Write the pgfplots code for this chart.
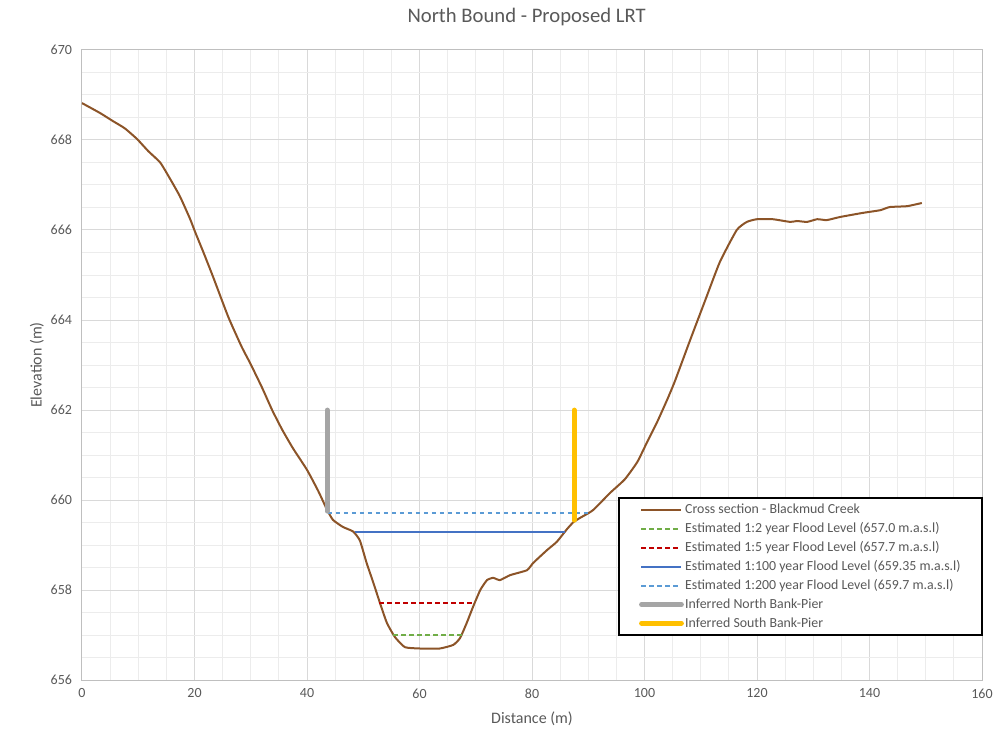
\documentclass[border=0pt]{standalone}
\usepackage{fontspec}
\setmainfont{Carlito}
\usepackage{pgfplots}
\pgfplotsset{compat=1.18}
\definecolor{txt}{RGB}{89,89,89}
\definecolor{majg}{RGB}{217,217,217}
\definecolor{ming}{RGB}{236,236,236}
\definecolor{axg}{RGB}{191,191,191}
\definecolor{creekbrown}{RGB}{140,84,40}
\definecolor{twogreen}{RGB}{112,173,71}
\definecolor{fivered}{RGB}{192,0,0}
\definecolor{hundredblue}{RGB}{68,114,196}
\definecolor{twohundredblue}{RGB}{91,155,213}
\definecolor{piergray}{RGB}{165,165,165}
\definecolor{pieryellow}{RGB}{255,192,0}
\begin{document}
\begin{tikzpicture}
\useasboundingbox (-61.5pt,-36.75pt) rectangle (690pt,510pt);
\begin{axis}[
  scale only axis, width=675pt, height=472.5pt,
  xmin=0, xmax=160, ymin=656, ymax=670,
  xtick={0,20,...,160}, ytick={656,658,...,670},
  minor x tick num=3, minor y tick num=3,
  grid=both,
  major grid style={draw=majg, line width=0.75pt},
  minor grid style={draw=ming, line width=0.75pt},
  axis line style={draw=axg, line width=0.75pt},
  major tick style={draw=none}, minor tick style={draw=none},
  /pgf/number format/assume math mode=true,
  /pgf/number format/1000 sep={},
  ticklabel style={font=\fontsize{10.5}{12}\selectfont, text=txt},
  xticklabel style={yshift=-3pt},
  yticklabel style={xshift=-4pt},
  xlabel={Distance (m)}, ylabel={Elevation (m)},
  xlabel style={at={(axis description cs:0.5,-0.0619)}, anchor=center, font=\fontsize{12}{14}\selectfont, text=txt},
  ylabel style={at={(axis description cs:-0.05,0.5)}, anchor=center, font=\fontsize{12}{14}\selectfont, text=txt},
  title={North Bound - Proposed LRT},
  title style={at={(axis description cs:0.494,1.040)}, anchor=center, font=\fontsize{15.5}{18}\selectfont, text=txt},
  legend style={at={(1.001,0.0698)}, anchor=south east, draw=black, line width=1.5pt,
     font=\fontsize{10.4}{12}\selectfont, text=txt, inner xsep=15pt, inner ysep=2.5pt, row sep=1.2pt, fill=white,
     nodes={inner xsep=1pt}},
  legend cell align=left,
  legend image code/.code={\draw[#1] (0pt,0pt) -- (30pt,0pt);},
]
\addplot[draw=creekbrown, line width=1.5pt, smooth, tension=0.3] coordinates {
(0,668.82) (3.2,668.6) (5.5,668.42) (7.6,668.26) (9.8,668.02) (11.8,667.75)
(13.9,667.5) (15.6,667.15) (17.4,666.75) (19.2,666.25) (20.1,665.96) (21.6,665.5)
(23.3,664.96) (26,664.07) (28.4,663.4) (29.9,663.04) (32,662.5) (33.8,662.0)
(35.6,661.56) (37.5,661.15)
(40,660.67) (42,660.2) (43.5,659.8) (44.6,659.56) (46.4,659.4) (48.2,659.3)
(49.4,659.1) (50.6,658.6) (51.8,658.16) (53,657.7) (54.2,657.27) (55.6,656.96)
(57.4,656.73) (60.1,656.7) (63.6,656.7) (66,656.78) (67.2,656.93) (68.4,657.27)
(69.5,657.62) (70.8,658.0) (72,658.22) (73.1,658.27) (74.3,658.22) (76.1,658.33)
(79.1,658.44) (80.2,658.6) (82.7,658.89) (84.4,659.07) (86.2,659.35) (87.3,659.5)
(88.5,659.6) (90.8,659.77) (93.9,660.16) (96.5,660.46) (98.7,660.84) (100.4,661.27)
(102.2,661.72) (104,662.22) (105.4,662.64)
(108.1,663.55) (110.8,664.44) (113.4,665.29) (116.4,666.0) (118.2,666.18)
(120,666.24) (122.8,666.24) (125.9,666.18) (127.1,666.2) (128.9,666.18) (130.7,666.24)
(132.4,666.22) (134.8,666.29) (138.8,666.38) (141.9,666.44) (143.6,666.51) (146.7,666.53)
(149.3,666.6)
};
\addlegendentry{Cross section - Blackmud Creek}
\addplot[draw=twogreen, line width=1.5pt, dash pattern=on 3.5pt off 2.5pt] coordinates {(55.3,657.0) (67.5,657.0)};
\addlegendentry{Estimated 1:2 year Flood Level (657.0 m.a.s.l)}
\addplot[draw=fivered, line width=1.5pt, dash pattern=on 3.5pt off 2.5pt] coordinates {(52.8,657.711) (69.5,657.711)};
\addlegendentry{Estimated 1:5 year Flood Level (657.7 m.a.s.l)}
\addplot[draw=hundredblue, line width=1.5pt] coordinates {(48.5,659.289) (85.9,659.289)};
\addlegendentry{Estimated 1:100 year Flood Level (659.35 m.a.s.l)}
\addplot[draw=twohundredblue, line width=1.5pt, dash pattern=on 3.5pt off 2.5pt] coordinates {(43.7,659.711) (90.3,659.711)};
\addlegendentry{Estimated 1:200 year Flood Level (659.7 m.a.s.l)}
\addplot[draw=piergray, line width=3.6pt, line cap=round] coordinates {(43.6,662) (43.6,659.75)};
\addlegendentry{Inferred North Bank-Pier}
\addplot[draw=pieryellow, line width=3.6pt, line cap=round] coordinates {(87.5,662) (87.5,659.55)};
\addlegendentry{Inferred South Bank-Pier}
\end{axis}
\end{tikzpicture}
\end{document}
